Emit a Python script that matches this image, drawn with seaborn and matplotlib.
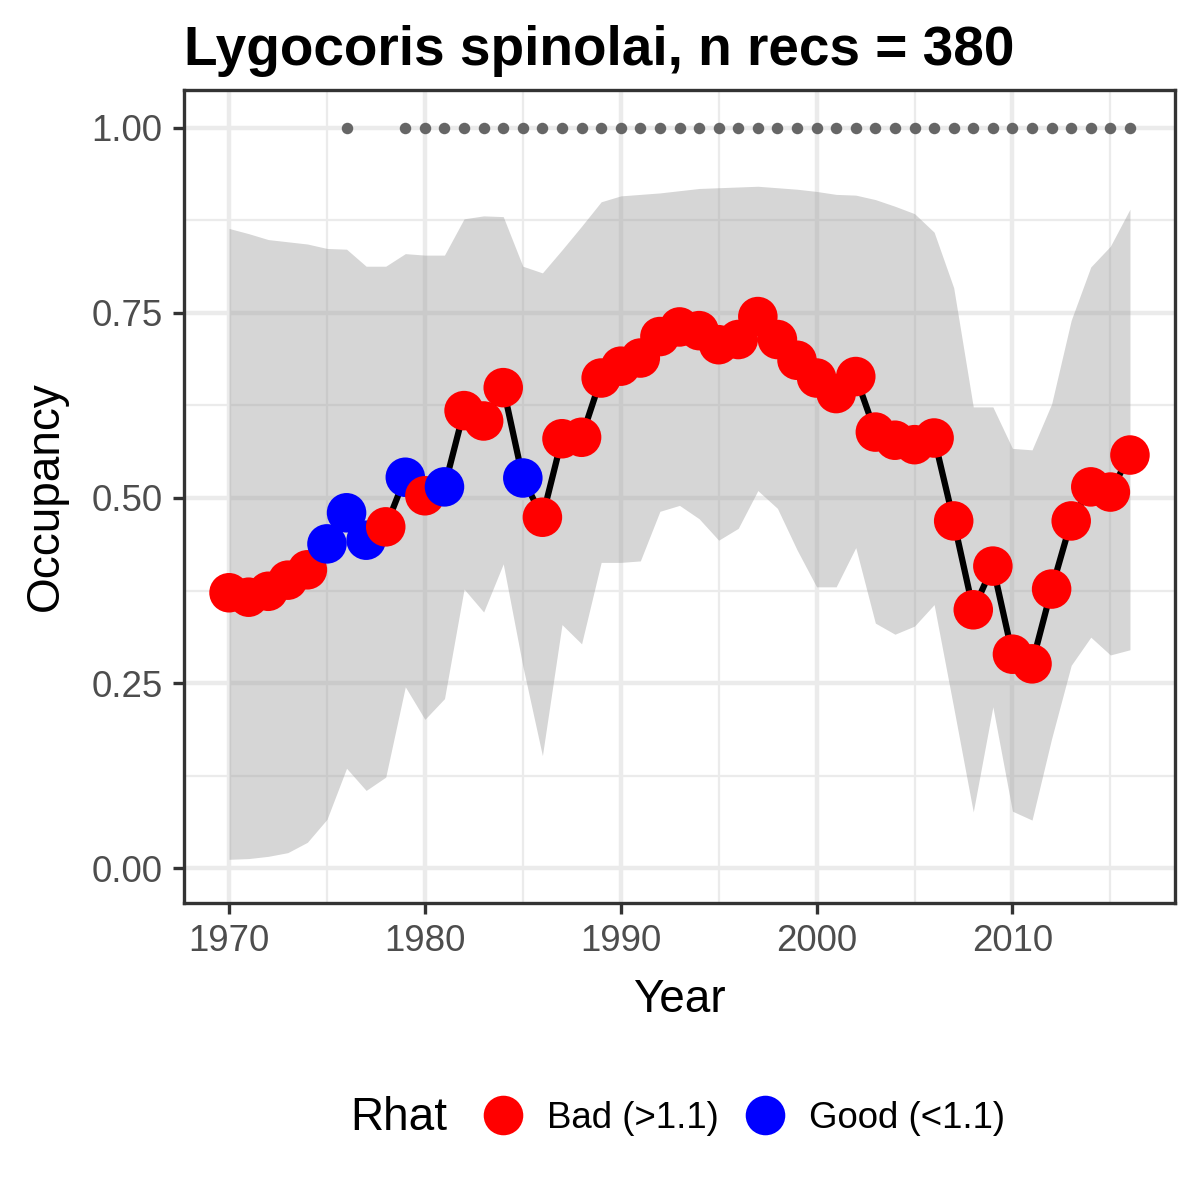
import numpy as np
import pandas as pd
import matplotlib
matplotlib.use("Agg")
import matplotlib.pyplot as plt
import seaborn as sns
from matplotlib.lines import Line2D
from matplotlib.ticker import MultipleLocator, FormatStrFormatter

# values
years = list(range(1970, 2017))
occupancy = [0.372, 0.366, 0.374, 0.389, 0.403, 0.438, 0.480, 0.443, 0.461, 0.528,
             0.503, 0.515, 0.618, 0.604, 0.649, 0.527, 0.474, 0.580, 0.582, 0.662,
             0.678, 0.689, 0.718, 0.731, 0.726, 0.707, 0.714, 0.745, 0.714, 0.686,
             0.662, 0.641, 0.664, 0.589, 0.578, 0.572, 0.581, 0.469, 0.349, 0.408,
             0.289, 0.276, 0.377, 0.469, 0.515, 0.508, 0.558]
upper = [0.864, 0.857, 0.849, 0.846, 0.843, 0.837, 0.836, 0.813, 0.813, 0.830,
         0.828, 0.828, 0.877, 0.881, 0.880, 0.813, 0.804, 0.835, 0.867, 0.900,
         0.908, 0.910, 0.912, 0.915, 0.918, 0.919, 0.920, 0.921, 0.919, 0.917,
         0.914, 0.910, 0.909, 0.903, 0.894, 0.884, 0.859, 0.784, 0.623, 0.623,
         0.567, 0.565, 0.627, 0.740, 0.812, 0.840, 0.890]
lower = [0.012, 0.013, 0.016, 0.021, 0.035, 0.066, 0.135, 0.105, 0.123, 0.245,
         0.201, 0.229, 0.377, 0.346, 0.411, 0.273, 0.152, 0.329, 0.303, 0.413,
         0.413, 0.415, 0.482, 0.490, 0.472, 0.443, 0.459, 0.510, 0.486, 0.430,
         0.380, 0.380, 0.433, 0.331, 0.316, 0.327, 0.356, 0.217, 0.076, 0.218,
         0.077, 0.065, 0.175, 0.274, 0.312, 0.288, 0.295]
good_years = [1975, 1976, 1977, 1979, 1981, 1985]
rhat = ["Good (<1.1)" if y in good_years else "Bad (>1.1)" for y in years]
rec_years = [1976] + list(range(1979, 2017))
rhat_colors = {"Bad (>1.1)": "#FF0000", "Good (<1.1)": "#0000FF"}

df = pd.DataFrame({"year": years, "occ": occupancy, "upper": upper,
                   "lower": lower, "rhat": rhat})
recs = pd.DataFrame({"year": rec_years, "flag": [1.0] * len(rec_years)})

sns.set_theme(style="white")
plt.rcParams["font.family"] = ["Liberation Sans", "DejaVu Sans"]
plt.rcParams["text.color"] = "black"
plt.rcParams["axes.labelcolor"] = "black"

fig = plt.figure(figsize=(4, 4), dpi=300)
ax = fig.add_axes([184 / 1200, 1 - 903 / 1200, (1175 - 184) / 1200, (903 - 90) / 1200])

grid_col = "#EBEBEB"
ax.set_axisbelow(True)
ax.xaxis.set_major_locator(MultipleLocator(10))
ax.xaxis.set_minor_locator(MultipleLocator(5))
ax.yaxis.set_major_locator(MultipleLocator(0.25))
ax.yaxis.set_minor_locator(MultipleLocator(0.125))
ax.grid(which="major", color=grid_col, linewidth=1.07)
ax.grid(which="minor", color=grid_col, linewidth=0.53)

ax.fill_between(df["year"], df["lower"], df["upper"], color="#999999",
                alpha=0.4, linewidth=0, zorder=2)
sns.lineplot(data=df, x="year", y="occ", color="black", linewidth=1.5,
             ax=ax, zorder=3)
sns.scatterplot(data=df, x="year", y="occ", hue="rhat", palette=rhat_colors,
                s=90, linewidth=0, ax=ax, zorder=4, legend=False)
sns.scatterplot(data=recs, x="year", y="flag", color="#666666", s=7.6,
                linewidth=0, ax=ax, zorder=4, legend=False)

ax.set_xlim(1967.7, 2018.3)
ax.set_ylim(-0.047, 1.051)
ax.yaxis.set_major_formatter(FormatStrFormatter("%.2f"))
ax.set_xlabel("Year", fontsize=11, color="black", labelpad=4.5)
ax.set_ylabel("Occupancy", fontsize=11, color="black", labelpad=5.5)
ax.tick_params(which="major", axis="both", length=2.75, width=0.8,
               color="#333333", labelsize=8.8, labelcolor="#4D4D4D", pad=2.4,
               bottom=True, left=True)
ax.tick_params(which="minor", length=0)
for sp in ax.spines.values():
    sp.set_color("#333333")
    sp.set_linewidth(0.8)

fig.text(184 / 1200, 1 - 65 / 1200, "Lygocoris spinolai, n recs = 380",
         fontsize=13.2, fontweight="bold", color="black", ha="left", va="baseline")

# legend at the bottom, title to the left of the keys
fig.text(350 / 1200, 1 - 1118 / 1200, "Rhat", fontsize=11, color="black",
         ha="left", va="center")
handles = [Line2D([], [], marker="o", linestyle="none", markersize=9.5,
                  markerfacecolor=c, markeredgewidth=0) for c in rhat_colors.values()]
leg = fig.legend(handles, list(rhat_colors.keys()), loc="center left",
                 bbox_to_anchor=(485 / 1200, 1 - 1118 / 1200), ncol=2, frameon=False,
                 fontsize=8.8, handlelength=1.0, handletextpad=0.7, columnspacing=0.75,
                 borderpad=0, borderaxespad=0)
for t in leg.get_texts():
    t.set_color("black")

fig.savefig("out.png", dpi=300)
